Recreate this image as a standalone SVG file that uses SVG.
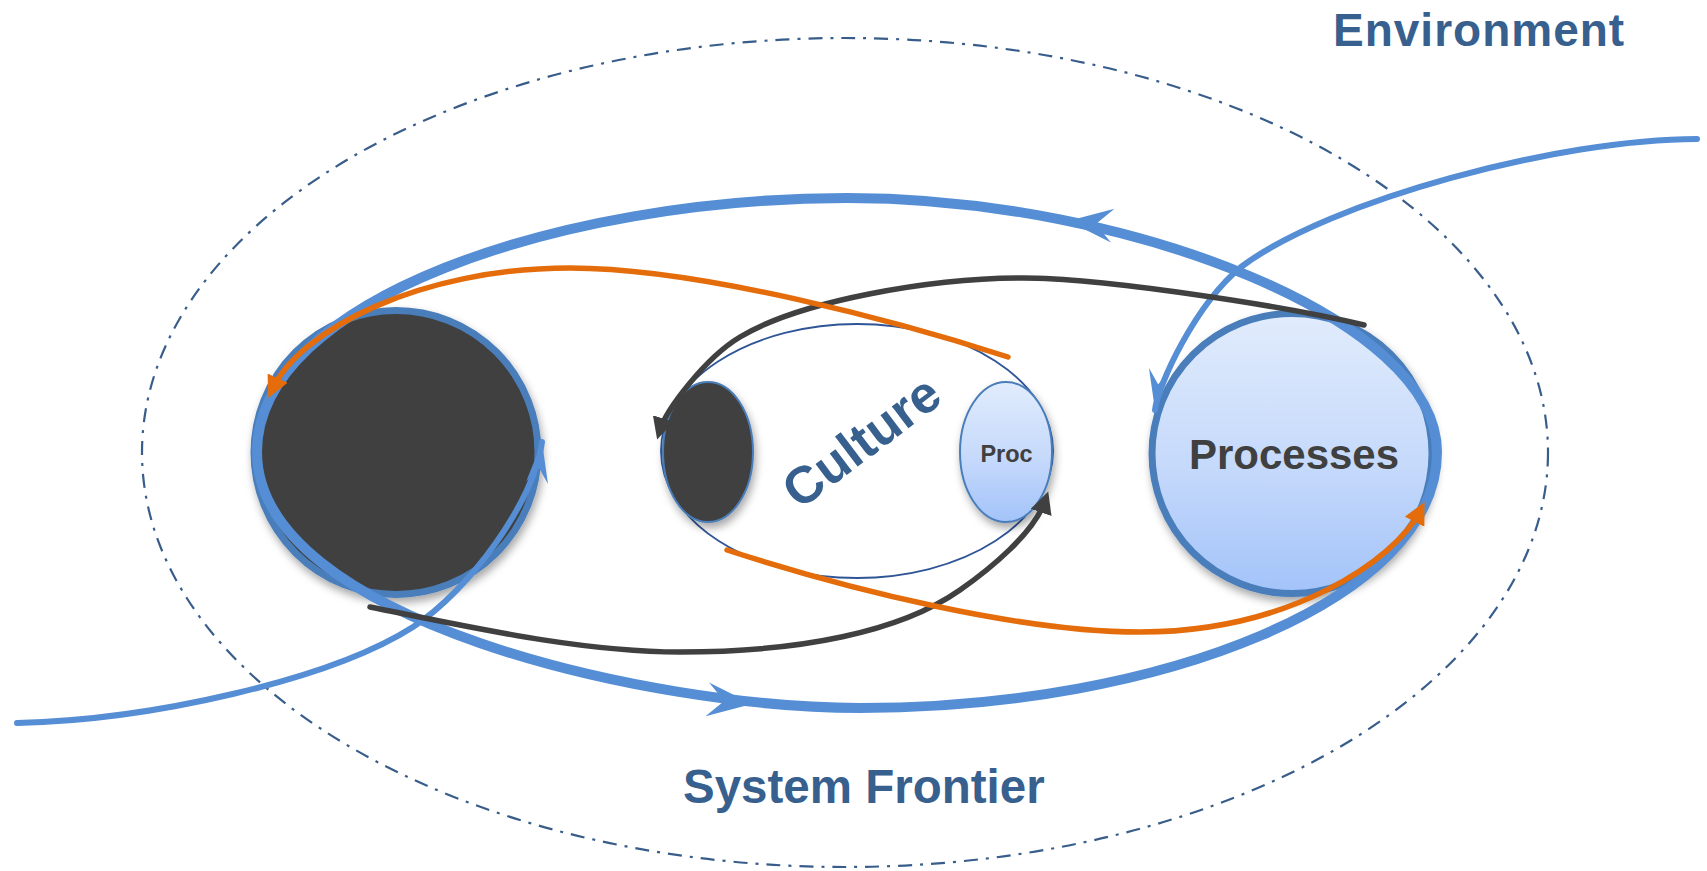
<svg xmlns="http://www.w3.org/2000/svg" width="1707" height="871" viewBox="0 0 1707 871">
  <defs>
    <style>
      .frontier { fill: none; stroke: #385D8A; stroke-width: 2.2; stroke-dasharray: 14 8 3 8; }
      .label { font-family: "Liberation Sans", Arial, sans-serif; font-weight: bold; fill: #37608F; }
      .nodetext { font-family: "Liberation Sans", Arial, sans-serif; font-weight: bold; fill: #404040; text-anchor: middle; }
      .bignode { stroke: #4A7EBB; stroke-width: 7; }
      .smallnode { stroke: #4A7EBB; stroke-width: 2; }
      .culture { fill: none; stroke: #2F5597; stroke-width: 1.8; }
      .orbit { fill: none; stroke: #558ED5; stroke-width: 10; }
      .flow { fill: none; stroke: #558ED5; stroke-width: 6; stroke-linecap: round; }
      .dark { fill: none; stroke: #404040; stroke-width: 5.5; stroke-linecap: round; }
      .orange { fill: none; stroke: #E46C0A; stroke-width: 5.5; stroke-linecap: round; }
    </style>
    <linearGradient id="procGrad" x1="0" y1="0" x2="0" y2="1">
      <stop offset="0" stop-color="#E1ECFC"/>
      <stop offset="0.55" stop-color="#C5D9FB"/>
      <stop offset="1" stop-color="#A3C3F9"/>
    </linearGradient>
    <filter id="shadow" x="-20%" y="-20%" width="140%" height="150%">
      <feDropShadow dx="2" dy="5" stdDeviation="4" flood-color="#000" flood-opacity="0.35"/>
    </filter>
    <marker id="triDark" viewBox="-22 -11 23 22" refX="-10" refY="0" markerWidth="23" markerHeight="22" markerUnits="userSpaceOnUse" orient="auto">
      <path d="M0,0 L-22,-11 L-22,11 Z" fill="#404040"/>
    </marker>
    <marker id="triOrange" viewBox="-22 -11 23 22" refX="-10" refY="0" markerWidth="23" markerHeight="22" markerUnits="userSpaceOnUse" orient="auto">
      <path d="M0,0 L-22,-11 L-22,11 Z" fill="#E46C0A"/>
    </marker>
    <marker id="stealthBlue" viewBox="-42 -12 43 24" refX="0" refY="0" markerWidth="43" markerHeight="24" markerUnits="userSpaceOnUse" orient="auto">
      <path d="M0,0 L-41,-11 L-26,0 L-41,11 Z" fill="#558ED5"/>
    </marker>
    <path id="stealthBig" d="M0,0 L-45,-17 L-28,0 L-45,17 Z" fill="#558ED5"/>
  </defs>

  <rect x="0" y="0" width="1707" height="871" fill="#FFFFFF"/>

  <g id="system-frontier">
    <ellipse class="frontier" cx="845" cy="452.5" rx="703" ry="414.5"/>
    <text class="label" x="683" y="803" font-size="47.5">System Frontier</text>
  </g>

  <g id="environment">
    <text class="label" x="1333" y="46" font-size="46" letter-spacing="1">Environment</text>
  </g>

  <g id="dark-node">
    <circle class="bignode" cx="396" cy="452.5" r="142" fill="#404040" filter="url(#shadow)"/>
  </g>

  <g id="processes">
    <circle class="bignode" cx="1292" cy="453.5" r="140" fill="url(#procGrad)" filter="url(#shadow)"/>
    <text class="nodetext" x="1294" y="469" font-size="42">Processes</text>
  </g>

  <g id="culture">
    <ellipse class="culture" cx="857" cy="451" rx="196" ry="127"/>
    <text class="label" transform="translate(861,441) rotate(-37)" x="0" y="18.5" font-size="52" text-anchor="middle">Culture</text>
  </g>

  <g id="culture-dark">
    <ellipse class="smallnode" cx="708" cy="452" rx="45" ry="70" fill="#404040" filter="url(#shadow)"/>
  </g>

  <g id="proc">
    <ellipse class="smallnode" cx="1006" cy="452" rx="46" ry="70" fill="url(#procGrad)" filter="url(#shadow)"/>
    <text class="nodetext" x="1006.5" y="462" font-size="23.5">Proc</text>
  </g>

  <g id="connectors">
    <path class="orbit" d="M257,452 C257,300 560,198 847,198 C1130,198 1437,320 1437,452 C1437,600 1160,708 860,708 C650,708 257,620 257,452 Z"/>
    <use href="#stealthBig" transform="translate(1068,221) rotate(186)"/>
    <use href="#stealthBig" transform="translate(752,704) rotate(6)"/>

    <path class="flow" marker-end="url(#stealthBlue)" d="M1697,139 C1560,139 1330,200 1241,267 C1195,305 1158,385 1155,410"/>
    <path class="flow" marker-end="url(#stealthBlue)" d="M17,723 C150,720 330,680 413,627 C470,590 535,500 542,442"/>

    <path class="dark" marker-end="url(#triDark)" d="M1364,325 C1280,305 1100,278 1023,278 C930,278 800,301 740,337 C705,358 666,410 660,430"/>
    <path class="dark" marker-end="url(#triDark)" d="M370,607 C470,627 580,652 680,652 C800,652 900,632 960,590 C990,569 1034,533 1045,501"/>

    <path class="orange" marker-end="url(#triOrange)" d="M1008,357 C900,322 700,268 570,268 C420,268 300,330 272.5,389"/>
    <path class="orange" marker-end="url(#triOrange)" d="M727,550 C850,590 1020,632 1140,632 C1290,632 1395,560 1420,511"/>
  </g>
</svg>
